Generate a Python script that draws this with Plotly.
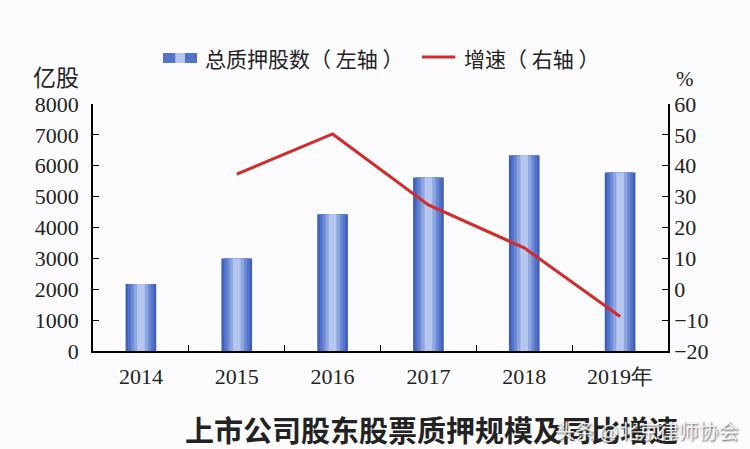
import plotly.graph_objects as go

years = ["2014", "2015", "2016", "2017", "2018", "2019"]
year_labels = ["2014", "2015", "2016", "2017", "2018", "2019年"]
pledged = [2170, 3000, 4430, 5620, 6340, 5780]
growth = [None, 37.3, 50.3, 27.3, 13.4, -8.8]

left_ticks = [0, 1000, 2000, 3000, 4000, 5000, 6000, 7000, 8000]
right_ticks = [-20, -10, 0, 10, 20, 30, 40, 50, 60]
right_labels = ["\u221220", "\u221210", "0", "10", "20", "30", "40", "50", "60"]

serif = "Liberation Serif, Times New Roman, serif"
cjk = "Noto Sans CJK SC, sans-serif"

fig = go.Figure()

layers = [
    (0.32, "#3f5fbb"),
    (0.27, "#5273c7"),
    (0.21, "#6c8ad3"),
    (0.15, "#8ea6e0"),
    (0.08, "#b6c7ef"),
]
for w, c in layers:
    fig.add_trace(go.Bar(
        x=years, y=pledged, width=[w] * len(years),
        marker=dict(color=c, line=dict(width=0)),
        showlegend=False, hoverinfo="skip", yaxis="y",
    ))

fig.add_trace(go.Scatter(
    x=years, y=growth, mode="lines", yaxis="y2",
    line=dict(color="#d42a2a", width=3),
    showlegend=False, connectgaps=False,
))

fig.update_layout(
    width=750, height=449,
    margin=dict(l=93, r=82, t=104, b=98),
    paper_bgcolor="#fcfcfe", plot_bgcolor="#fcfcfe",
    barmode="overlay",
    showlegend=False,
    xaxis=dict(
        type="category", range=[-0.5, 5.5],
        tickmode="array", tickvals=years, ticktext=year_labels,
        tickson="boundaries", ticks="inside", ticklen=6, tickcolor="#000",
        showline=True, linecolor="#000", linewidth=1.5,
        showgrid=False, zeroline=False,
        tickfont=dict(family=serif, size=22, color="#222"),
        ticklabelstandoff=5,
    ),
    yaxis=dict(
        range=[0, 8000], tickmode="array", tickvals=left_ticks,
        ticks="inside", ticklen=6, tickcolor="#000",
        showline=True, linecolor="#000", linewidth=1.5,
        showgrid=False, zeroline=False,
        tickfont=dict(family=serif, size=22, color="#222"),
        ticklabelstandoff=8,
    ),
    yaxis2=dict(
        range=[-20, 60], tickmode="array", tickvals=right_ticks,
        ticktext=right_labels,
        overlaying="y", side="right",
        ticks="inside", ticklen=6, tickcolor="#000",
        showline=True, linecolor="#000", linewidth=1.5,
        showgrid=False, zeroline=False,
        tickfont=dict(family=serif, size=22, color="#222"),
        ticklabelstandoff=0,
    ),
)

# manual legend
fig.add_shape(type="rect", xref="paper", yref="paper",
              x0=0.1217, x1=0.1809, y0=1.166, y1=1.2065,
              fillcolor="#5273c7", line=dict(width=0))
fig.add_shape(type="rect", xref="paper", yref="paper",
              x0=0.143, x1=0.160, y0=1.166, y1=1.2065,
              fillcolor="#b6c7ef", line=dict(width=0))
fig.add_annotation(xref="paper", yref="paper", x=0.1913, y=1.186,
                   xanchor="left", yanchor="middle", showarrow=False,
                   text="总质押股数（ 左轴 ）",
                   font=dict(family=cjk, size=21, color="#222"))
fig.add_shape(type="line", xref="paper", yref="paper",
              x0=0.572, x1=0.630, y0=1.190, y1=1.190,
              line=dict(color="#d42a2a", width=3))
fig.add_annotation(xref="paper", yref="paper", x=0.6417, y=1.186,
                   xanchor="left", yanchor="middle", showarrow=False,
                   text="增速（ 右轴 ）",
                   font=dict(family=cjk, size=21, color="#222"))

# axis unit labels
fig.add_annotation(xref="paper", yref="paper", x=-0.065, y=1.113,
                   xanchor="center", yanchor="middle", showarrow=False,
                   text="亿股", font=dict(family=cjk, size=23, color="#222"))
fig.add_annotation(xref="paper", yref="paper", x=1.03, y=1.10,
                   xanchor="center", yanchor="middle", showarrow=False,
                   text="%", font=dict(family=serif, size=21, color="#222"))

# bottom title and watermark
fig.add_annotation(xref="paper", yref="paper", x=(432 - 93) / 575, y=(351 - 429) / 247,
                   xanchor="center", yanchor="middle", showarrow=False,
                   text="<b>上市公司股东股票质押规模及同比增速</b>",
                   font=dict(family=cjk, size=29, color="#222"))
fig.add_annotation(xref="paper", yref="paper", x=(740 - 93) / 575, y=(351 - 430) / 247,
                   xanchor="right", yanchor="middle", showarrow=False,
                   text="头条 @北京律师协会",
                   font=dict(family=cjk, size=20, color="rgba(255,255,255,0.9)",
                             shadow="1px 1px 2px #444"))

fig.write_html("out.html")
